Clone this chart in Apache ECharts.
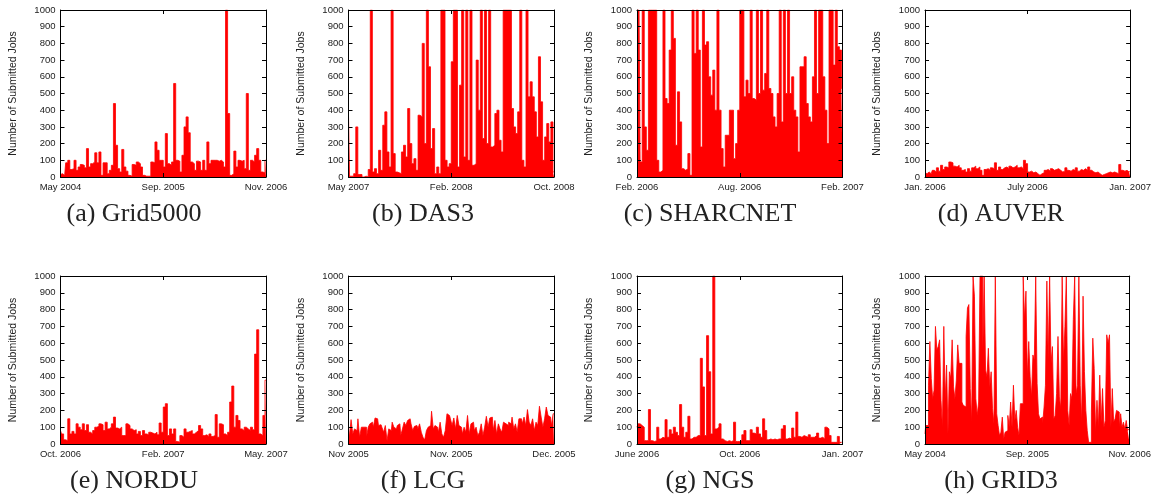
<!DOCTYPE html>
<html>
<head>
<meta charset="utf-8">
<script src="https://cdn.jsdelivr.net/npm/echarts@6/dist/echarts.min.js"></script>
<style>
html,body{margin:0;padding:0;background:#fff;}
#chart{width:1154px;height:502px;}
</style>
</head>
<body>
<div id="chart"></div>
<script>
// ---- data (jobs submitted; values above 1000 are clipped) ----
const grid5000 = [15,20,10,85,100,45,50,100,40,60, 75,70,55,170,60,80,90,145,85,150, 10,85,85,20,40,70,440,190,50,30, 165,60,35,10,5,75,70,90,80,60, 10,5,5,5,90,85,210,160,100,100, 60,260,80,70,90,560,100,95,30,130, 300,360,265,90,80,40,95,90,40,100, 40,210,80,100,100,100,95,100,90,60, 1000,380,10,20,155,60,100,95,100,50, 500,40,100,90,130,170,100,30,25,100];
const das3 = [370,5,5,20,300,15,15,0,5,0, 45,1000,30,50,20,160,40,310,390,150, 60,1000,140,30,25,20,150,190,120,410, 200,80,110,40,370,360,800,200,1000,660, 170,290,20,60,20,1000,1000,100,60,80, 690,1000,1000,60,550,1000,120,1000,100,1000, 70,80,700,400,1000,230,1000,200,1000,180, 190,380,400,220,150,1000,1000,1000,1000,410, 300,260,390,1000,100,60,1000,480,570,480, 390,240,720,450,100,240,320,210,330,30];
const sharcnet = [1000,1000,90,1000,300,160,1000,1000,1000,1000, 100,30,40,1000,470,440,760,1000,830,190, 510,330,50,40,50,140,10,1000,740,1000, 760,180,1000,790,810,600,490,640,400,1000, 400,170,60,250,250,400,400,110,200,400, 1000,1000,480,580,500,1000,470,460,1000,500, 1000,520,620,1000,530,500,360,300,500,1000, 330,1000,500,1000,500,600,400,360,150,660, 660,720,440,360,330,600,1000,500,1000,1000, 600,400,200,1000,1000,670,1000,780,760,530];
const auver = [25,20,30,20,40,30,55,35,70,45, 60,55,90,85,65,60,70,55,40,45, 30,50,35,55,65,50,60,40,10,45, 50,40,55,50,85,40,60,45,55,60, 50,65,55,60,70,55,60,50,100,80, 30,35,25,30,20,10,20,25,40,45, 35,50,40,45,50,40,30,35,55,40, 35,45,40,55,35,45,40,50,40,60, 40,30,25,30,20,10,15,20,25,30, 25,30,25,20,75,40,35,40,30,35];
const nordu = [80,60,25,20,150,60,75,60,120,100, 85,120,80,115,70,60,80,100,105,120, 115,80,130,90,100,120,160,95,90,100, 50,50,120,110,90,80,85,60,75,50, 80,60,55,70,65,60,70,55,125,70, 220,240,50,90,60,90,15,10,50,40, 90,70,75,80,60,70,80,110,90,50, 55,45,60,45,50,175,40,120,115,60, 50,70,250,345,100,170,140,90,80,100, 90,80,100,85,535,680,60,50,170,380];
const lcg = [100,40,145,60,90,80,150,40,100,100, 100,40,100,120,130,100,155,150,110,115, 100,70,110,20,90,80,130,100,90,110, 120,50,90,130,110,140,150,120,80,105, 110,90,120,70,40,25,80,100,110,195, 90,110,100,70,130,60,40,80,180,170, 150,110,155,90,170,110,100,60,100,70, 170,60,120,130,80,100,50,70,120,50, 100,165,100,155,160,80,140,60,120,90, 70,130,120,110,130,120,160,90,120,70, 150,150,120,160,110,205,130,110,150,80, 130,110,225,160,100,150,220,170,160,110, 180];
const ngs = [100,120,110,100,20,20,205,20,15,20, 100,30,40,35,145,40,85,60,100,70, 50,235,100,40,70,165,30,40,40,50, 50,510,340,50,645,430,60,1000,90,100, 120,30,20,15,20,15,20,130,15,15, 20,55,80,20,20,85,65,60,100,60, 40,150,80,25,30,25,30,25,30,30, 90,110,30,35,30,95,40,190,45,40, 50,45,40,55,40,40,50,65,35,40, 30,100,90,50,10,10,10,45,10,10];
const grid3 = [60,110,110,350,610,390,270,320,700,560, 580,620,260,100,700,270,470,60,430,390, 620,340,270,380,590,480,480,250,230,220, 640,810,830,330,130,1000,880,270,170,250, 1000,1000,560,1000,440,400,570,340,430,210, 120,1000,180,110,50,70,160,30,70,80, 170,100,250,100,350,140,200,100,50,240, 240,1000,740,910,400,610,400,280,530,500, 1000,360,180,150,160,120,220,350,970,500, 1000,480,580,150,170,300,640,280,210,1000, 490,700,1000,200,110,300,270,740,1000,300, 350,1000,350,130,880,430,200,80,10,10, 190,630,450,70,260,100,410,130,330,100, 140,650,600,650,100,330,130,150,200,190, 100,180,100,130,90,140,80,90];

// ---- tick labels and captions ----
const xLabelsA = ['May 2004','Sep. 2005','Nov. 2006'];
const xLabelsB = ['May 2007','Feb. 2008','Oct. 2008'];
const xLabelsC = ['Feb. 2006','Aug. 2006','Feb. 2007'];
const xLabelsD = ['Jan. 2006','July 2006','Jan. 2007'];
const xLabelsE = ['Oct. 2006','Feb. 2007','May. 2007'];
const xLabelsF = ['Nov 2005','Nov. 2005','Dec. 2005'];
const xLabelsG = ['June 2006','Oct. 2006','Jan. 2007'];
const xLabelsH = ['May 2004','Sep. 2005','Nov. 2006'];
const captions = ['(a) Grid5000','(b) DAS3','(c) SHARCNET','(d) AUVER','(e) NORDU','(f) LCG','(g) NGS','(h) GRID3'];
const yTitle = 'Number of Submitted Jobs';

const seriesData = [grid5000, das3, sharcnet, auver, nordu, lcg, ngs, grid3];
const xLabelSets = [xLabelsA, xLabelsB, xLabelsC, xLabelsD, xLabelsE, xLabelsF, xLabelsG, xLabelsH];

// ---- layout ----
const lefts = [60.5, 348.5, 637, 925];
const tops = [10, 276];
const heights = [167, 168];
const W = 205.5;
const capX = [134, 423, 710, 1001];
const capY = [201, 468];

const lineStyle = {color:'#000', width:1};
const labelColor = '#222';
const grids = [], xAxes = [], yAxes = [], series = [], titles = [];

for (let k = 0; k < 8; k++) {
  const row = Math.floor(k / 4), col = k % 4;
  grids.push({left: lefts[col], top: tops[row], width: W, height: heights[row], containLabel: false});
  const data = seriesData[k];
  const xl = xLabelSets[k];
  const xBase = xAxes.length, yBase = yAxes.length;
  xAxes.push({gridIndex:k, type:'category', data: data.map((_, i) => i), show:false, boundaryGap:false});
  xAxes.push({gridIndex:k, type:'value', min:0, max:2, interval:1, position:'bottom',
    axisLine:{show:true, onZero:false, lineStyle}, axisTick:{show:true, inside:true, length:4, lineStyle},
    axisLabel:{show:true, formatter: v => xl[v] || '', fontSize:9.5, color:labelColor, margin:5, hideOverlap:false, showMinLabel:true, showMaxLabel:true},
    splitLine:{show:false}, z:5});
  xAxes.push({gridIndex:k, type:'value', min:0, max:2, interval:1, position:'top',
    axisLine:{show:true, onZero:false, lineStyle}, axisTick:{show:true, inside:true, length:4, lineStyle},
    axisLabel:{show:false}, splitLine:{show:false}, z:5});
  yAxes.push({gridIndex:k, type:'value', min:0, max:1000, interval:100, position:'left',
    name: yTitle, nameLocation:'middle', nameGap:42, nameRotate:90,
    nameTextStyle:{fontSize:10.5, color:labelColor},
    axisLine:{show:true, onZero:false, lineStyle}, axisTick:{show:true, inside:true, length:4, lineStyle},
    axisLabel:{fontSize:9.5, color:labelColor, margin:5, formatter: v => String(v)}, splitLine:{show:false}, z:5});
  yAxes.push({gridIndex:k, type:'value', min:0, max:1000, interval:100, position:'right',
    axisLine:{show:true, onZero:false, lineStyle}, axisTick:{show:true, inside:true, length:4, lineStyle},
    axisLabel:{show:false}, splitLine:{show:false}, z:5});
  series.push({type:'line', xAxisIndex:xBase, yAxisIndex:yBase, data: data, step:'middle',
    showSymbol:false, symbol:'none', lineStyle:{color:'#ff0000', width:0.8},
    areaStyle:{color:'#ff0000', opacity:1}, silent:true, z:1, clip:true});
  titles.push({text: captions[k], left: capX[col], top: capY[row], textAlign:'center', padding:0,
    textStyle:{fontFamily:'"Liberation Serif", serif', fontSize:26, fontWeight:'normal', color:'#222'}});
}

const chart = echarts.init(document.getElementById('chart'), null, {renderer:'canvas'});
chart.setOption({
  animation:false,
  backgroundColor:'#fff',
  textStyle:{fontFamily:'"Liberation Sans", Arial, sans-serif'},
  title: titles,
  grid: grids,
  xAxis: xAxes,
  yAxis: yAxes,
  series: series
});
</script>
</body>
</html>
